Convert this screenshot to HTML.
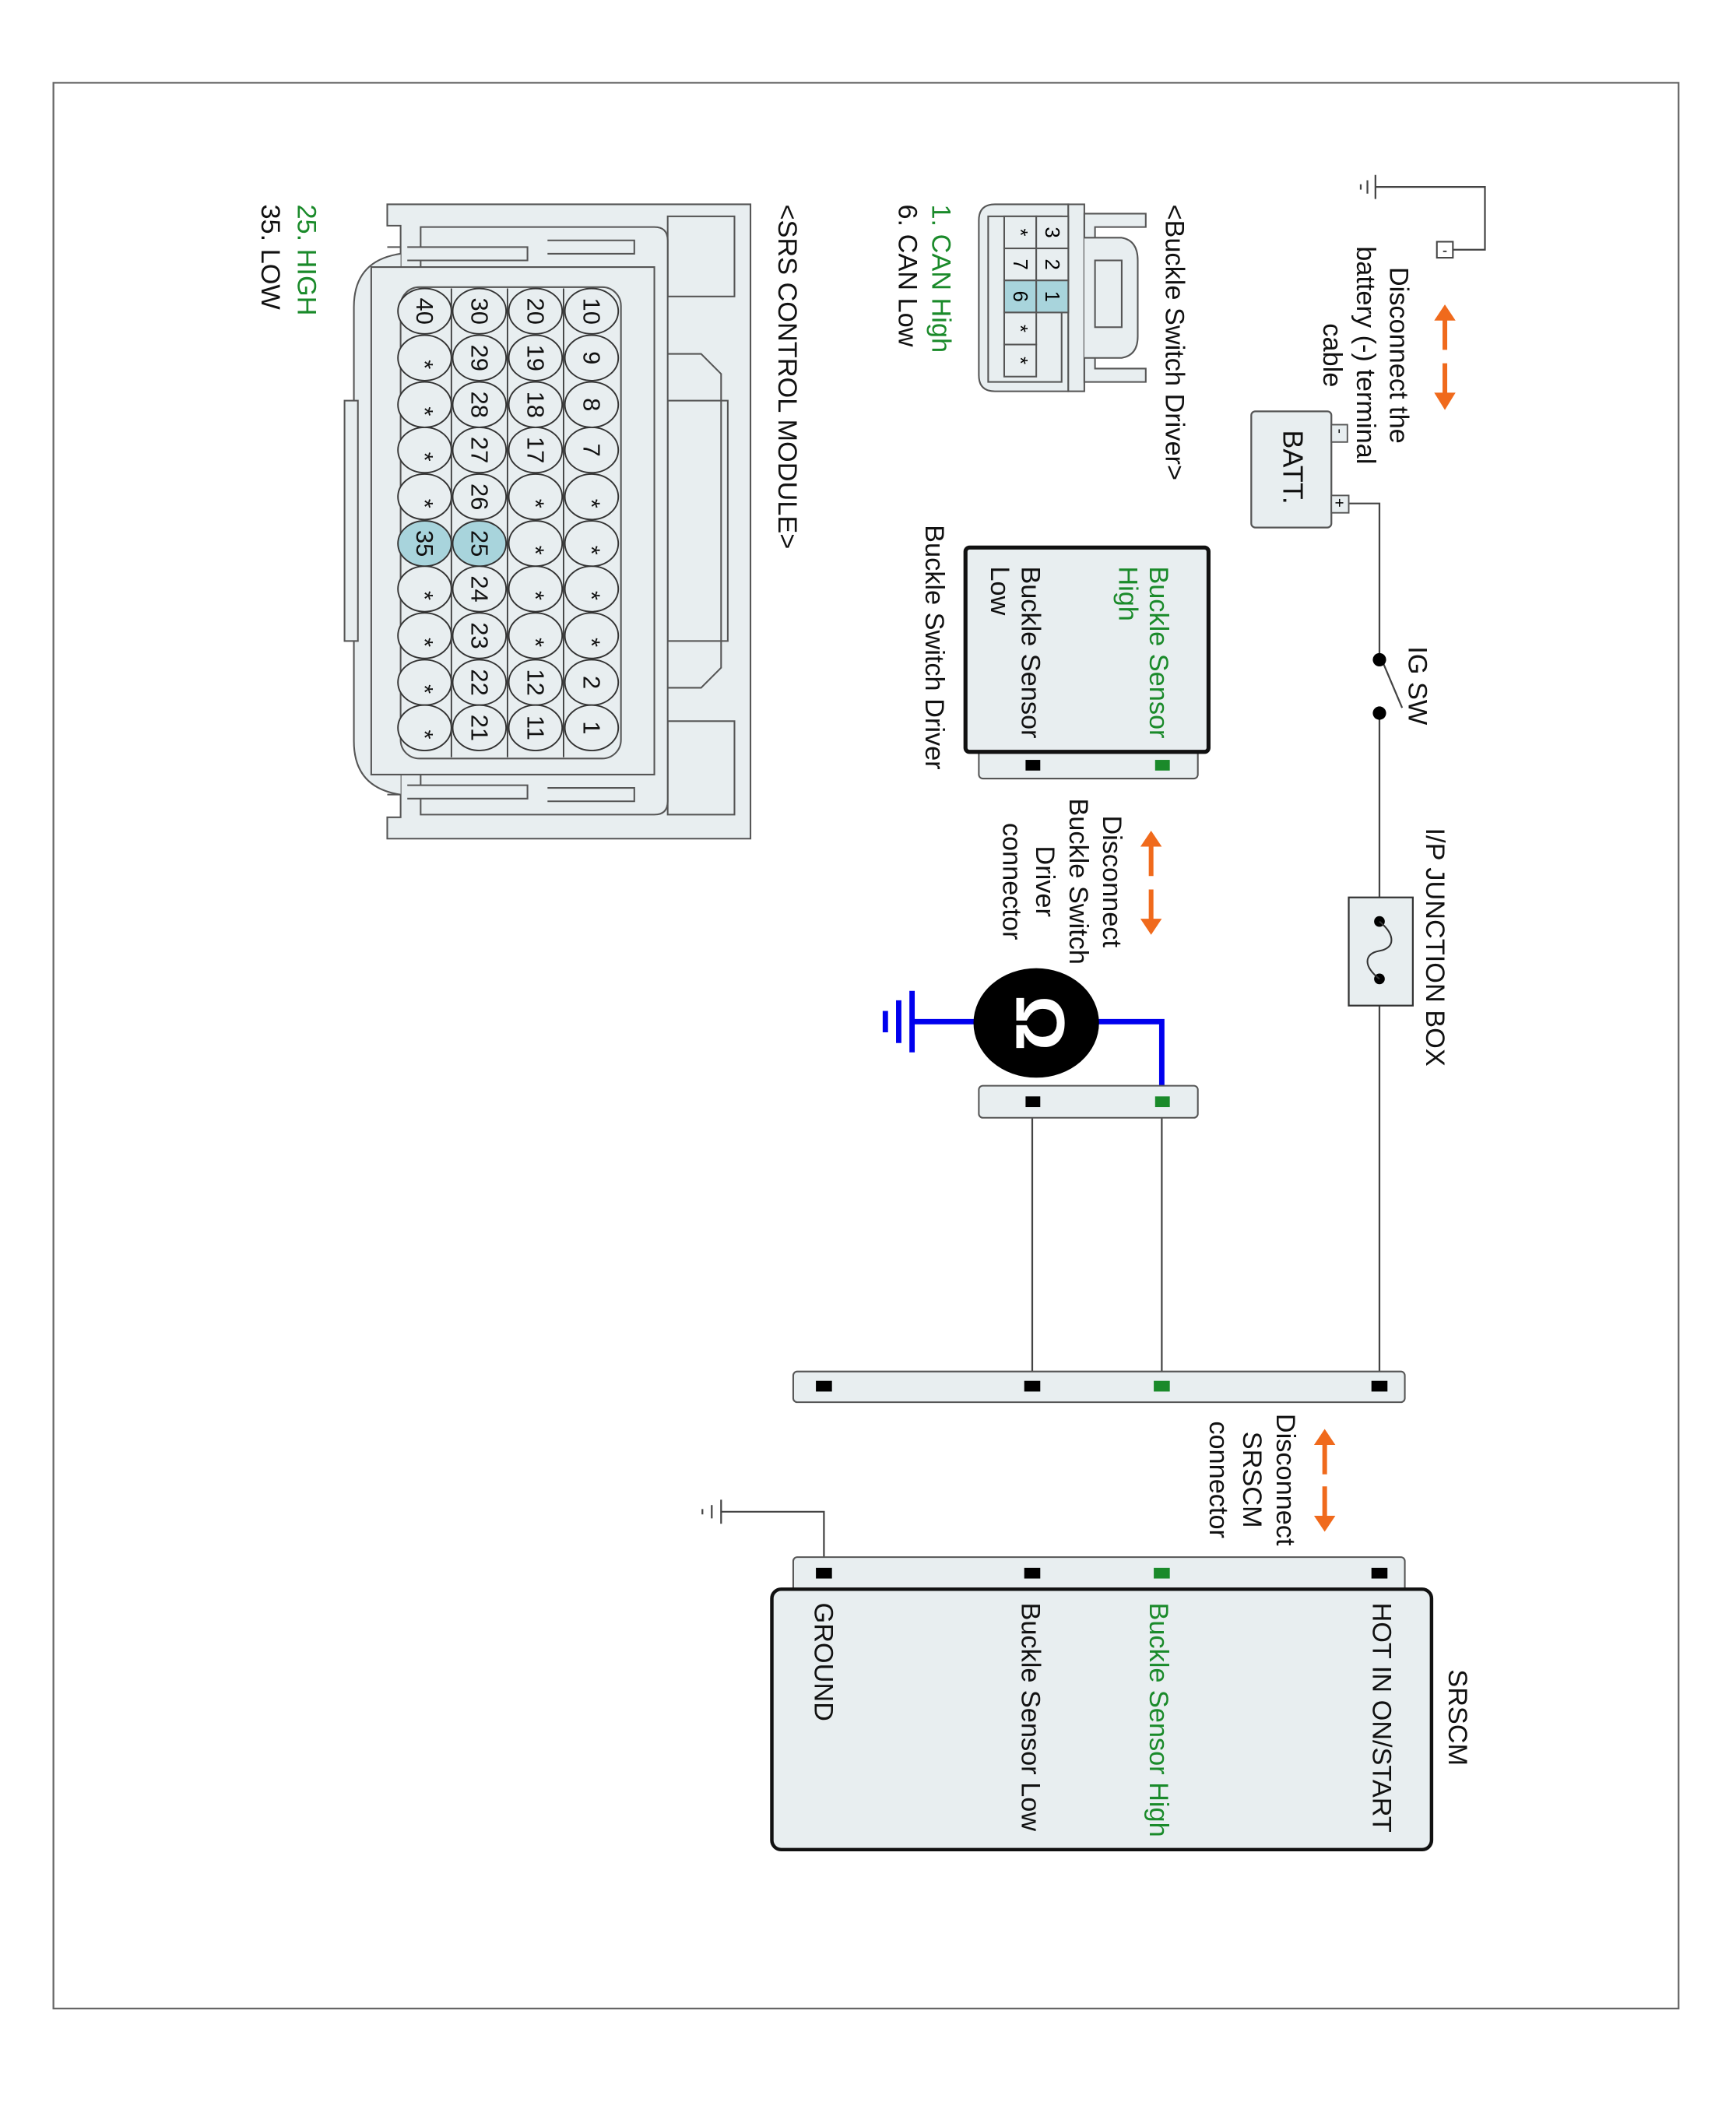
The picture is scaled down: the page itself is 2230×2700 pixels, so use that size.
<!DOCTYPE html>
<html><head><meta charset="utf-8"><style>
html,body{margin:0;padding:0;background:#fff}
svg{display:block}
text{font-family:"Liberation Sans",Arial,sans-serif}
</style></head><body>
<svg width="2230" height="2700" viewBox="0 0 1300 1574" xmlns="http://www.w3.org/2000/svg">
<rect x="0" y="0" width="1300" height="1574" fill="#fff"/>
<rect x="40" y="62" width="1217" height="1442" fill="none" stroke="#666" stroke-width="1.3"/>

<g stroke="#444" stroke-width="1.3" fill="none">
  <!-- top ground -->
  <polyline points="1030,140 1112,140 1112,187 1088,187"/>
  <line x1="1030" y1="131" x2="1030" y2="149"/>
  <line x1="1024" y1="135" x2="1024" y2="145"/>
  <line x1="1019" y1="138" x2="1019" y2="142"/>
  <!-- main wire -->
  <polyline points="1010,377 1033,377 1033,494"/>
  <line x1="1036" y1="497" x2="1050" y2="530"/>
  <line x1="1033" y1="534" x2="1033" y2="1038"/>
  <!-- lower wires -->
  <line x1="870" y1="836" x2="870" y2="1038"/>
  <line x1="773" y1="836" x2="773" y2="1038"/>
  <!-- SRSCM ground -->
  <polyline points="617,1178 617,1132 540,1132"/>
  <line x1="540" y1="1123" x2="540" y2="1141"/>
  <line x1="533" y1="1127" x2="533" y2="1137"/>
  <line x1="526" y1="1130" x2="526" y2="1134"/>
</g>
<rect x="1076" y="181" width="12" height="12" fill="#fff" stroke="#444" stroke-width="1.2"/>
<text x="1082" y="191" font-size="11" text-anchor="middle">-</text>

<!-- orange arrows -->
<g fill="#f06a1c" stroke="#f06a1c" stroke-width="3.5">
  <line x1="1082" y1="238" x2="1082" y2="262"/><polygon points="1074,240 1090,240 1082,228" stroke="none"/>
  <line x1="1082" y1="272" x2="1082" y2="296"/><polygon points="1074,294 1090,294 1082,307" stroke="none"/>
  <line x1="862" y1="632" x2="862" y2="656"/><polygon points="854,634 870,634 862,622" stroke="none"/>
  <line x1="862" y1="666" x2="862" y2="690"/><polygon points="854,688 870,688 862,700" stroke="none"/>
  <line x1="992" y1="1080" x2="992" y2="1104"/><polygon points="984,1082 1000,1082 992,1070" stroke="none"/>
  <line x1="992" y1="1113" x2="992" y2="1137"/><polygon points="984,1135 1000,1135 992,1147" stroke="none"/>
</g>

<!-- battery -->
<rect x="937" y="308" width="60" height="87" rx="3" fill="#e8eef0" stroke="#555" stroke-width="1.3"/>
<rect x="997" y="318" width="12" height="13" fill="#e8eef0" stroke="#555" stroke-width="1.1"/>
<rect x="997" y="371" width="13" height="13" fill="#e8eef0" stroke="#555" stroke-width="1.1"/>
<text transform="translate(1000,321) rotate(90)" font-size="11">-</text>
<text transform="translate(999,373) rotate(90)" font-size="12">+</text>

<!-- IG SW dots -->
<circle cx="1033" cy="494" r="5" fill="#000"/>
<circle cx="1033" cy="534" r="5" fill="#000"/>

<!-- junction box -->
<rect x="1010" y="672" width="48" height="81" fill="#e8eef0" stroke="#333" stroke-width="1.3"/>
<circle cx="1033" cy="690" r="4" fill="#000"/>
<circle cx="1033" cy="733" r="4" fill="#000"/>
<path d="M1033,690 C1045,700 1045,710 1033,712 C1021,714 1021,724 1033,733" fill="none" stroke="#333" stroke-width="1.2"/>

<!-- buckle switch driver -->
<rect x="733" y="560" width="164" height="23" rx="3" fill="#e8eef0" stroke="#555" stroke-width="1.2"/>
<rect x="723" y="410" width="182" height="153" rx="3" fill="#e8eef0" stroke="#111" stroke-width="3"/>
<rect x="865" y="569" width="11" height="8" fill="#1a8a2a"/>
<rect x="768" y="569" width="11" height="8" fill="#000"/>

<!-- middle connector -->
<polyline points="870,825 870,765 822,765" fill="none" stroke="#0000ee" stroke-width="4"/>
<line x1="730" y1="765" x2="683" y2="765" stroke="#0000ee" stroke-width="4"/>
<line x1="683" y1="742" x2="683" y2="788" stroke="#0000ee" stroke-width="4"/>
<line x1="673" y1="749" x2="673" y2="781" stroke="#0000ee" stroke-width="4"/>
<line x1="663" y1="757" x2="663" y2="773" stroke="#0000ee" stroke-width="4"/>
<rect x="733" y="813" width="164" height="24" rx="3" fill="#e8eef0" stroke="#555" stroke-width="1.2"/>
<rect x="865" y="821" width="11" height="8" fill="#1a8a2a"/>
<rect x="768" y="821" width="11" height="8" fill="#000"/>
<ellipse cx="776" cy="766" rx="47" ry="41" fill="#000"/>
<text transform="translate(761,766) rotate(90)" font-size="52" font-weight="bold" fill="#fff" text-anchor="middle">Ω</text>

<!-- lower connector -->
<rect x="594" y="1027" width="458" height="23" rx="3" fill="#e8eef0" stroke="#555" stroke-width="1.2"/>
<g fill="#000"><rect x="1027" y="1034" width="12" height="8"/><rect x="767" y="1034" width="12" height="8"/><rect x="611" y="1034" width="12" height="8"/></g>
<rect x="864" y="1034" width="12" height="8" fill="#1a8a2a"/>

<!-- SRSCM -->
<rect x="594" y="1166" width="458" height="30" rx="3" fill="#e8eef0" stroke="#555" stroke-width="1.2"/>
<g fill="#000"><rect x="1027" y="1174" width="12" height="8"/><rect x="767" y="1174" width="12" height="8"/><rect x="611" y="1174" width="12" height="8"/></g>
<rect x="864" y="1174" width="12" height="8" fill="#1a8a2a"/>
<rect x="578" y="1190" width="494" height="195" rx="7" fill="#e8eef0" stroke="#111" stroke-width="2.6"/>

<!-- Buckle connector drawing -->
<g stroke="#555" stroke-width="1.2" fill="#e8eef0">
  <path d="M745,153 L800,153 L800,293 L745,293 Q733,293 733,281 L733,165 Q733,153 745,153 Z"/>
  <rect x="800" y="153" width="12" height="140"/>
  <path d="M812,160 L858,160 L858,170 L820,170 L820,276 L858,276 L858,286 L812,286 Z"/>
  <path d="M812,178 L840,178 Q852,180 852,195 L852,252 Q852,266 840,268 L812,268"/>
  <rect x="820" y="195" width="20" height="50" fill="none"/>
  <rect x="740" y="162" width="55" height="124" fill="none"/>
  <rect x="752" y="162" width="24" height="24"/>
  <rect x="776" y="162" width="24" height="24"/>
  <rect x="752" y="186" width="24" height="24"/>
  <rect x="776" y="186" width="24" height="24"/>
  <rect x="752" y="210" width="24" height="24" fill="#a8d4dc"/>
  <rect x="776" y="210" width="24" height="24" fill="#a8d4dc"/>
  <rect x="752" y="234" width="24" height="24"/>
  <rect x="752" y="258" width="24" height="24"/>
</g>
<g font-size="15" text-anchor="middle">
  <text transform="translate(783,174) rotate(90)">3</text>
  <text transform="translate(783,198) rotate(90)">2</text>
  <text transform="translate(783,222) rotate(90)">1</text>
  <text transform="translate(759,174) rotate(90)">*</text>
  <text transform="translate(759,198) rotate(90)">7</text>
  <text transform="translate(759,222) rotate(90)">6</text>
  <text transform="translate(759,246) rotate(90)">*</text>
  <text transform="translate(759,270) rotate(90)">*</text>
</g>

<!-- SRS connector drawing -->
<g stroke="#555" stroke-width="1.2" fill="#e8eef0">
  <path d="M290,153 L562,153 L562,628 L290,628 L290,612 L300,612 L300,169 L290,169 Z"/>
  <rect x="500" y="162" width="50" height="60"/>
  <rect x="500" y="540" width="50" height="70"/>
  <path d="M500,265 L525,265 L540,280 L540,500 L525,515 L500,515"/>
  <rect x="500" y="300" width="45" height="180" fill="none"/>
  <path d="M315,170 L490,170 Q500,170 500,180 L500,600 Q500,610 490,610 L315,610 Z"/>
  <path d="M290,185 L300,185 M290,595 L300,595"/>
  <path d="M305,185 L395,185 L395,195 L305,195 M305,588 L395,588 L395,598 L305,598"/>
  <path d="M410,180 L475,180 L475,190 L410,190 M410,590 L475,590 L475,600 L410,600"/>
  <path d="M300,190 Q265,195 265,230 L265,555 Q265,590 300,595"/>
  <rect x="258" y="300" width="10" height="180"/>
  <path d="M278,200 L490,200 L490,580 L278,580 Z"/>
  <rect x="300" y="215" width="165" height="353" rx="14"/>
</g>
<g stroke="#333" stroke-width="1">
  <line x1="380" y1="216" x2="380" y2="567"/>
  <line x1="422" y1="216" x2="422" y2="567"/>
  <line x1="338" y1="216" x2="338" y2="567"/>
</g>
<g id="pins" stroke="#333" stroke-width="1.1" font-size="17" text-anchor="middle">
</g>
<g stroke="#333" stroke-width="1.1" fill="#e8eef0">
<ellipse cx="443" cy="233" rx="20" ry="17"/><ellipse cx="443" cy="268" rx="20" ry="17"/><ellipse cx="443" cy="303" rx="20" ry="17"/><ellipse cx="443" cy="337" rx="20" ry="17"/><ellipse cx="443" cy="372" rx="20" ry="17"/><ellipse cx="443" cy="407" rx="20" ry="17"/><ellipse cx="443" cy="441" rx="20" ry="17"/><ellipse cx="443" cy="476" rx="20" ry="17"/><ellipse cx="443" cy="511" rx="20" ry="17"/><ellipse cx="443" cy="545" rx="20" ry="17"/>
<ellipse cx="401" cy="233" rx="20" ry="17"/><ellipse cx="401" cy="268" rx="20" ry="17"/><ellipse cx="401" cy="303" rx="20" ry="17"/><ellipse cx="401" cy="337" rx="20" ry="17"/><ellipse cx="401" cy="372" rx="20" ry="17"/><ellipse cx="401" cy="407" rx="20" ry="17"/><ellipse cx="401" cy="441" rx="20" ry="17"/><ellipse cx="401" cy="476" rx="20" ry="17"/><ellipse cx="401" cy="511" rx="20" ry="17"/><ellipse cx="401" cy="545" rx="20" ry="17"/>
<ellipse cx="359" cy="233" rx="20" ry="17"/><ellipse cx="359" cy="268" rx="20" ry="17"/><ellipse cx="359" cy="303" rx="20" ry="17"/><ellipse cx="359" cy="337" rx="20" ry="17"/><ellipse cx="359" cy="372" rx="20" ry="17"/><ellipse cx="359" cy="407" rx="20" ry="17" fill="#a8d4dc"/><ellipse cx="359" cy="441" rx="20" ry="17"/><ellipse cx="359" cy="476" rx="20" ry="17"/><ellipse cx="359" cy="511" rx="20" ry="17"/><ellipse cx="359" cy="545" rx="20" ry="17"/>
<ellipse cx="318" cy="233" rx="20" ry="17"/><ellipse cx="318" cy="268" rx="20" ry="17"/><ellipse cx="318" cy="303" rx="20" ry="17"/><ellipse cx="318" cy="337" rx="20" ry="17"/><ellipse cx="318" cy="372" rx="20" ry="17"/><ellipse cx="318" cy="407" rx="20" ry="17" fill="#a8d4dc"/><ellipse cx="318" cy="441" rx="20" ry="17"/><ellipse cx="318" cy="476" rx="20" ry="17"/><ellipse cx="318" cy="511" rx="20" ry="17"/><ellipse cx="318" cy="545" rx="20" ry="17"/>
</g>
<g font-size="18" text-anchor="middle" fill="#111">
<text transform="translate(437,233) rotate(90)">10</text><text transform="translate(437,268) rotate(90)">9</text><text transform="translate(437,303) rotate(90)">8</text><text transform="translate(437,337) rotate(90)">7</text><text transform="translate(437,377) rotate(90)">*</text><text transform="translate(437,412) rotate(90)">*</text><text transform="translate(437,446) rotate(90)">*</text><text transform="translate(437,481) rotate(90)">*</text><text transform="translate(437,511) rotate(90)">2</text><text transform="translate(437,545) rotate(90)">1</text>
<text transform="translate(395,233) rotate(90)">20</text><text transform="translate(395,268) rotate(90)">19</text><text transform="translate(395,303) rotate(90)">18</text><text transform="translate(395,337) rotate(90)">17</text><text transform="translate(395,377) rotate(90)">*</text><text transform="translate(395,412) rotate(90)">*</text><text transform="translate(395,446) rotate(90)">*</text><text transform="translate(395,481) rotate(90)">*</text><text transform="translate(395,511) rotate(90)">12</text><text transform="translate(395,545) rotate(90)">11</text>
<text transform="translate(353,233) rotate(90)">30</text><text transform="translate(353,268) rotate(90)">29</text><text transform="translate(353,303) rotate(90)">28</text><text transform="translate(353,337) rotate(90)">27</text><text transform="translate(353,372) rotate(90)">26</text><text transform="translate(353,407) rotate(90)">25</text><text transform="translate(353,441) rotate(90)">24</text><text transform="translate(353,476) rotate(90)">23</text><text transform="translate(353,511) rotate(90)">22</text><text transform="translate(353,545) rotate(90)">21</text>
<text transform="translate(312,233) rotate(90)">40</text><text transform="translate(312,273) rotate(90)">*</text><text transform="translate(312,308) rotate(90)">*</text><text transform="translate(312,342) rotate(90)">*</text><text transform="translate(312,377) rotate(90)">*</text><text transform="translate(312,407) rotate(90)">35</text><text transform="translate(312,446) rotate(90)">*</text><text transform="translate(312,481) rotate(90)">*</text><text transform="translate(312,516) rotate(90)">*</text><text transform="translate(312,550) rotate(90)">*</text>
</g>

<!-- labels -->
<g font-size="20" fill="#111">
  <g text-anchor="middle">
    <text transform="translate(1041,266) rotate(90)">Disconnect the</text>
    <text transform="translate(1016,266) rotate(90)">battery (-) terminal</text>
    <text transform="translate(991,266) rotate(90)">cable</text>
    <text transform="translate(826,660) rotate(90)">Disconnect</text>
    <text transform="translate(801,660) rotate(90)">Buckle Switch</text>
    <text transform="translate(776,660) rotate(90)">Driver</text>
    <text transform="translate(751,660) rotate(90)">connector</text>
    <text transform="translate(956,1108) rotate(90)">Disconnect</text>
    <text transform="translate(931,1108) rotate(90)">SRSCM</text>
    <text transform="translate(906,1108) rotate(90)">connector</text>
  </g>
  <text transform="translate(961,322) rotate(90)" font-size="21">BATT.</text>
  <text transform="translate(1055,484) rotate(90)">IG SW</text>
  <text transform="translate(1068,620) rotate(90)">I/P JUNCTION BOX</text>
  <text transform="translate(861,424) rotate(90)" fill="#1a8a2a">Buckle Sensor</text>
  <text transform="translate(838,424) rotate(90)" fill="#1a8a2a">High</text>
  <text transform="translate(765,424) rotate(90)">Buckle Sensor</text>
  <text transform="translate(742,424) rotate(90)">Low</text>
  <text transform="translate(693,393) rotate(90)">Buckle Switch Driver</text>
  <text transform="translate(873,153) rotate(90)">&lt;Buckle Switch Driver&gt;</text>
  <text transform="translate(698,153) rotate(90)" fill="#1a8a2a">1. CAN High</text>
  <text transform="translate(673,153) rotate(90)">6. CAN Low</text>
  <text transform="translate(583,153) rotate(90)">&lt;SRS CONTROL MODULE&gt;</text>
  <text transform="translate(223,153) rotate(90)" fill="#1a8a2a">25. HIGH</text>
  <text transform="translate(196,153) rotate(90)">35. LOW</text>
  <text transform="translate(1085,1250) rotate(90)">SRSCM</text>
  <text transform="translate(1028,1200) rotate(90)">HOT IN ON/START</text>
  <text transform="translate(861,1200) rotate(90)" fill="#1a8a2a">Buckle Sensor High</text>
  <text transform="translate(765,1200) rotate(90)">Buckle Sensor Low</text>
  <text transform="translate(610,1200) rotate(90)">GROUND</text>
</g>
</svg>
</body></html>
